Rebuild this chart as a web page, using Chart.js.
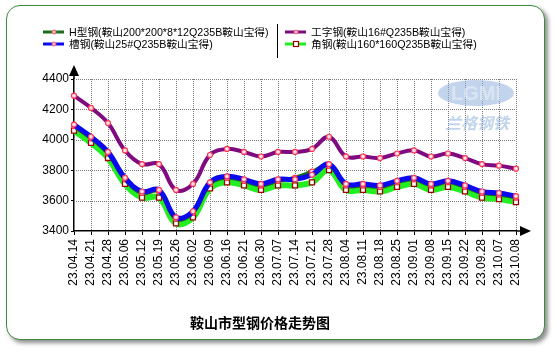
<!DOCTYPE html>
<html>
<head>
<meta charset="utf-8">
<script src="https://cdn.jsdelivr.net/npm/chart.js@4"></script>
<style>
    html, body { margin: 0; padding: 0; background: #fff; }
    #wrap { position: relative; width: 555px; height: 354px; }
    #card {
        position: absolute; left: 6px; top: 5px; width: 537px; height: 333px;
        border: 1px solid #3f8a3f; border-radius: 14px; background: #fff;
        box-shadow: 3px 3px 4px rgba(0,0,0,0.45);
    }
    #chart { position: absolute; left: 0; top: 0; }
</style>
</head>
<body>
<div id="wrap">
    <div id="card"></div>
    <canvas id="chart" width="555" height="354"></canvas>
</div>
<script>
// =============== Data ===============
const labels = ["23.04.14", "23.04.21", "23.04.28", "23.05.06", "23.05.12", "23.05.19", "23.05.26",
    "23.06.02", "23.06.09", "23.06.16", "23.06.21", "23.06.30", "23.07.07", "23.07.14", "23.07.21",
    "23.07.28", "23.08.04", "23.08.11", "23.08.18", "23.08.25", "23.09.01", "23.09.08", "23.09.15",
    "23.09.22", "23.09.28", "23.10.07", "23.10.08"];

const hBeam   = [4090, 4010, 3910, 3740, 3650, 3660, 3480, 3520, 3710, 3750, 3730, 3700, 3730, 3750,
    3790, 3830, 3700, 3700, 3690, 3720, 3740, 3700, 3720, 3690, 3650, 3640, 3620];
const channel = [4100, 4020, 3920, 3750, 3660, 3670, 3490, 3530, 3720, 3760, 3740, 3710, 3740, 3740,
    3770, 3840, 3710, 3710, 3700, 3730, 3750, 3710, 3730, 3700, 3660, 3650, 3630];
const iBeam   = [4290, 4210, 4110, 3930, 3840, 3840, 3670, 3710, 3900, 3940, 3920, 3890, 3920, 3920,
    3940, 4020, 3890, 3890, 3880, 3910, 3930, 3890, 3910, 3880, 3840, 3830, 3810];
const angle   = [4060, 3980, 3880, 3710, 3620, 3620, 3450, 3490, 3680, 3720, 3700, 3670, 3700, 3700,
    3720, 3800, 3670, 3670, 3660, 3690, 3710, 3670, 3690, 3660, 3620, 3610, 3590];

const seriesNames = ["H型钢(鞍山200*200*8*12Q235B鞍山宝得)", "槽钢(鞍山25#Q235B鞍山宝得)",
    "工字钢(鞍山16#Q235B鞍山宝得)", "角钢(鞍山160*160Q235B鞍山宝得)"];
const chartTitle = "鞍山市型钢价格走势图";

const FONT = "Arial, 'Liberation Sans', 'Noto Sans CJK SC'";

// =============== Helpers ===============
function circleSet(label, data, color, width, order) {
    return {
        label: label, data: data, borderColor: color, borderWidth: width,
        tension: 0.4, order: order,
        pointStyle: "circle", pointRadius: 2.5, pointBorderWidth: 1.2,
        pointBorderColor: "#ff3355", pointBackgroundColor: "#ffe0e6"
    };
}

function drawMarker(ctx, type, x, y) {
    ctx.save();
    if (type === "square") {
        ctx.fillStyle = "#fff";
        ctx.strokeStyle = "#a00000";
        ctx.lineWidth = 1.2;
        ctx.fillRect(x - 2.5, y - 2.5, 5, 5);
        ctx.strokeRect(x - 2.5, y - 2.5, 5, 5);
    } else {
        ctx.beginPath();
        ctx.arc(x, y, 2, 0, Math.PI * 2);
        ctx.fillStyle = "#ffc0cc";
        ctx.fill();
        ctx.strokeStyle = "#ff5577";
        ctx.lineWidth = 1;
        ctx.stroke();
    }
    ctx.restore();
}

// dotted grid, legend, arrows, watermark and title
const decorPlugin = {
    id: "decor",
    beforeDatasetsDraw(chart) {
        const ctx = chart.ctx;
        const area = chart.chartArea;
        const xs = chart.scales.x, ys = chart.scales.y;
        ctx.save();
        ctx.strokeStyle = "#7a7a7a";
        ctx.lineWidth = 1;
        ctx.setLineDash([1, 1]);
        ctx.beginPath();
        xs.ticks.forEach((t, i) => {
            if (i === 0) return;
            const x = Math.round(xs.getPixelForTick(i)) + 0.5;
            ctx.moveTo(x, area.top);
            ctx.lineTo(x, area.bottom);
        });
        ys.ticks.forEach((t, i) => {
            if (i === 0) return;
            const y = Math.round(ys.getPixelForTick(i)) + 0.5;
            ctx.moveTo(area.left, y);
            ctx.lineTo(area.right, y);
        });
        ctx.stroke();
        ctx.restore();

        ctx.save();
        ctx.globalAlpha = 0.55;
        ctx.beginPath();
        ctx.ellipse(476, 93, 38, 13, 0, 0, Math.PI * 2);
        ctx.fillStyle = "#8fb0dc";
        ctx.fill();
        ctx.font = "bold 20px " + FONT;
        ctx.textAlign = "center";
        ctx.textBaseline = "middle";
        ctx.fillStyle = "#eef2f8";
        ctx.fillText("LGMI", 476, 94);
        ctx.font = "italic bold 16px 'Noto Sans CJK SC'";
        ctx.fillStyle = "#8fb0dc";
        ctx.fillText("兰格钢铁", 477, 123);
        ctx.restore();
    },
    afterDraw(chart) {
        const ctx = chart.ctx;
        const area = chart.chartArea;
        ctx.save();

        // axis arrows
        ctx.fillStyle = "#000";
        ctx.strokeStyle = "#000";
        ctx.lineWidth = 1.5;
        ctx.beginPath();
        ctx.moveTo(area.left, area.top);
        ctx.lineTo(area.left, area.top - 4);
        ctx.moveTo(area.right, area.bottom);
        ctx.lineTo(area.right + 5, area.bottom);
        ctx.stroke();
        ctx.beginPath();
        ctx.moveTo(area.left, area.top - 14);
        ctx.lineTo(area.left - 5, area.top - 3);
        ctx.lineTo(area.left + 5, area.top - 3);
        ctx.closePath();
        ctx.fill();
        ctx.beginPath();
        ctx.moveTo(area.right + 15, area.bottom);
        ctx.lineTo(area.right + 4, area.bottom - 5);
        ctx.lineTo(area.right + 4, area.bottom + 5);
        ctx.closePath();
        ctx.fill();

        // legend
        const pos = [[43, 32], [43, 44], [285, 32], [285, 44]];
        const markers = ["circle", "circle", "circle", "square"];
        const legendColors = ["#1a6e1a", "#0a0aee", "#800a80", "#22ee22"];
        ctx.font = "10.7px " + FONT;
        ctx.textBaseline = "middle";
        ctx.textAlign = "left";
        chart.data.datasets.forEach((ds, i) => {
            const [x, y] = pos[i];
            ctx.strokeStyle = legendColors[i];
            ctx.lineWidth = 3;
            ctx.beginPath();
            ctx.moveTo(x, y);
            ctx.lineTo(x + 21, y);
            ctx.stroke();
            drawMarker(ctx, markers[i], x + 11, y);
            ctx.fillStyle = "#000";
            ctx.fillText(ds.label, x + 26, y + 1);
        });
        ctx.strokeStyle = "#000";
        ctx.lineWidth = 1;
        ctx.beginPath();
        ctx.moveTo(277.5, 24);
        ctx.lineTo(277.5, 58);
        ctx.stroke();

        // title
        ctx.font = "bold 14px 'Noto Sans CJK SC'";
        ctx.textAlign = "center";
        ctx.fillStyle = "#000";
        ctx.fillText(chartTitle, 260, 323);
        ctx.restore();
    }
};

// =============== Chart ===============
new Chart(document.getElementById("chart").getContext("2d"), {
    type: "line",
    data: {
        labels: labels,
        datasets: [
            circleSet(seriesNames[0], hBeam, "#1a6e1a", 4, 3),
            circleSet(seriesNames[1], channel, "#0a0aee", 5, 2),
            circleSet(seriesNames[2], iBeam, "#800a80", 4, 1),
            {
                label: seriesNames[3], data: angle, borderColor: "#22ee22", borderWidth: 6,
                tension: 0.4, order: 4,
                pointStyle: "rect", pointRadius: 3.5, pointBorderWidth: 1.3,
                pointBorderColor: "#a00000", pointBackgroundColor: "#fff"
            }
        ]
    },
    options: {
        responsive: false,
        animation: false,
        layout: { padding: { top: 79, right: 39, left: 0, bottom: 0 } },
        plugins: { legend: { display: false }, title: { display: false }, tooltip: { enabled: false } },
        scales: {
            x: {
                offset: false,
                grid: { drawOnChartArea: false, tickLength: 4, tickColor: "#000", tickWidth: 1 },
                border: { color: "#000", width: 1.5 },
                ticks: {
                    autoSkip: false, maxRotation: 90, minRotation: 90, padding: 4,
                    color: "#000", font: { size: 12, family: FONT }
                },
                afterFit: s => { s.height = 123; }
            },
            y: {
                min: 3400, max: 4400,
                grid: { drawOnChartArea: false, tickLength: 3, tickColor: "#000" },
                border: { color: "#000", width: 1.5 },
                ticks: {
                    stepSize: 200, padding: 2, color: "#000", font: { size: 12, family: FONT },
                    callback: v => String(v)
                },
                afterFit: s => { s.width = 74; }
            }
        }
    },
    plugins: [decorPlugin]
});
</script>
</body>
</html>
